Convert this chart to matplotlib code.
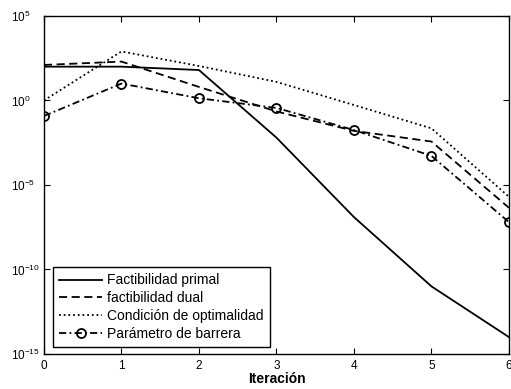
import matplotlib
matplotlib.use("Agg")
import matplotlib.pyplot as plt
import numpy as np

plt.rcParams['font.family'] = ['Liberation Sans', 'DejaVu Sans']

iteraciones = [0, 1, 2, 3, 4, 5, 6]
log_primal = [2.0, 2.0, 1.8, -2.2, -6.9, -11.0, -14.0]
log_dual = [2.1, 2.3, 0.8, -0.65, -1.8, -2.43, -6.35]
log_optim = [0.0, 2.9, 2.04, 1.1, -0.27, -1.65, -5.7]
log_barrera = [-0.92, 1.0, 0.13, -0.44, -1.75, -3.28, -7.2]

labels = ['Factibilidad primal', 'factibilidad dual',
          'Condición de optimalidad', 'Parámetro de barrera']
y_ticks = [1e-15, 1e-10, 1e-5, 1e0, 1e5]
y_tick_labels = [r'$\mathregular{10^{-15}}$', r'$\mathregular{10^{-10}}$',
                 r'$\mathregular{10^{-5}}$', r'$\mathregular{10^{0}}$',
                 r'$\mathregular{10^{5}}$']

fig = plt.figure(figsize=(5.11, 3.89), dpi=100)
ax = fig.add_axes([0.086, 0.09, 0.91, 0.869])

lw = 1.3
x = np.array(iteraciones)
ax.semilogy(x, 10.0 ** np.array(log_primal), color='black', lw=lw, ls='-', label=labels[0])
ax.semilogy(x, 10.0 ** np.array(log_dual), color='black', lw=lw, ls=(0, (4.5, 2.5)), label=labels[1])
ax.semilogy(x, 10.0 ** np.array(log_optim), color='black', lw=lw, ls=(0, (1, 1.6)), label=labels[2])
ax.semilogy(x, 10.0 ** np.array(log_barrera), color='black', lw=lw, ls=(0, (4, 1.8, 1, 1.8)),
            marker='o', markersize=6.5, markerfacecolor='none', markeredgewidth=1.3,
            label=labels[3])

ax.set_xlim(0, 6)
ax.set_ylim(1e-15, 1e5)
ax.set_xticks(iteraciones)
ax.set_yticks(y_ticks)
ax.set_yticklabels(y_tick_labels)
ax.yaxis.set_minor_locator(matplotlib.ticker.NullLocator())
ax.tick_params(which='both', direction='in', top=True, right=True, labelsize=8.5,
               length=4, width=0.8)
ax.tick_params(axis='x', pad=4.5)
ax.tick_params(axis='y', pad=24)
for lab in ax.get_yticklabels():
    lab.set_horizontalalignment('left')
for s in ax.spines.values():
    s.set_linewidth(1.0)
ax.set_xlabel('Iteración', fontsize=10, fontweight='bold', labelpad=0)

leg = ax.legend(loc='lower left', bbox_to_anchor=(0.019, 0.021), borderaxespad=0,
                fontsize=10, frameon=True, fancybox=False, edgecolor='black',
                handlelength=3.1, handletextpad=0.35, labelspacing=0.27,
                borderpad=0.45)
leg.get_frame().set_linewidth(1.0)
leg.get_frame().set_alpha(1)

fig.savefig('out.png', dpi=100)
